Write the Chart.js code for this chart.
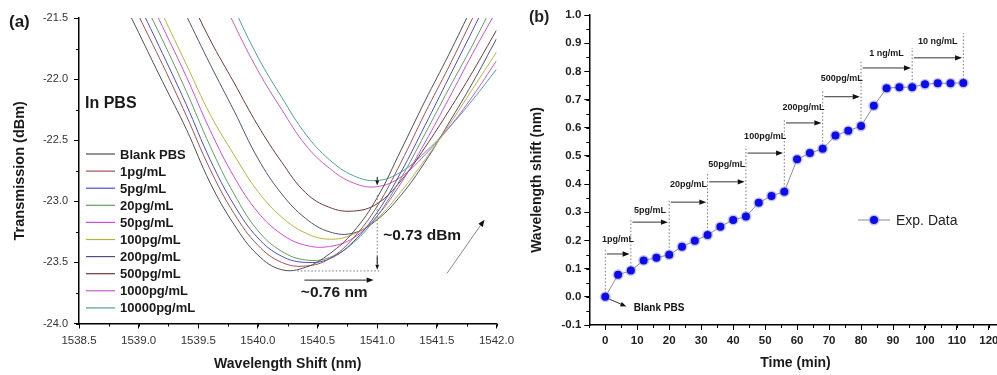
<!DOCTYPE html>
<html>
<head>
<meta charset="utf-8">
<script src="https://cdn.jsdelivr.net/npm/chart.js@4.4.0/dist/chart.umd.min.js"></script>
<style>
  body { margin: 0; background: #fff; width: 997px; height: 375px; overflow: hidden; position: relative; }
  #boxA { position: absolute; left: 0; top: 0; }
  #boxB { position: absolute; left: 500px; top: 0; }
</style>
</head>
<body>
<div id="boxA"><canvas id="chartA" width="530" height="375"></canvas></div>
<div id="boxB"><canvas id="chartB" width="540" height="375"></canvas></div>
<script>
const FONT = 'Arial, "Liberation Sans", Helvetica, sans-serif';

// ---- panel (a): transmission spectra ----
const wavelength = [1538.8, 1539.0, 1539.2, 1539.4, 1539.6, 1539.8, 1540.0, 1540.2, 1540.4, 1540.6, 1540.8, 1541.0, 1541.2, 1541.4, 1541.6, 1541.8, 1542.0];
const blankPBS = [-21.22, -21.62, -22.02, -22.41, -22.85, -23.19, -23.44, -23.56, -23.54, -23.43, -23.25, -22.97, -22.58, -22.18, -21.80, -21.40, -21.00];
const pg1 = [-21.05, -21.48, -21.88, -22.30, -22.74, -23.10, -23.36, -23.50, -23.53, -23.47, -23.30, -23.04, -22.68, -22.28, -21.90, -21.50, -21.10];
const pg5 = [-20.95, -21.38, -21.79, -22.21, -22.66, -23.03, -23.30, -23.45, -23.50, -23.47, -23.33, -23.09, -22.76, -22.38, -21.99, -21.60, -21.20];
const pg20 = [-20.85, -21.28, -21.68, -22.10, -22.55, -22.94, -23.24, -23.41, -23.48, -23.46, -23.34, -23.12, -22.81, -22.45, -22.08, -21.72, -21.33];
const pg50 = [-20.75, -21.16, -21.57, -21.98, -22.42, -22.80, -23.09, -23.27, -23.36, -23.37, -23.30, -23.12, -22.85, -22.52, -22.16, -21.79, -21.44];
const pg100 = [-20.62, -21.05, -21.47, -21.88, -22.29, -22.62, -22.92, -23.13, -23.26, -23.31, -23.27, -23.14, -22.92, -22.66, -22.38, -22.08, -21.78];
const pg200 = [null, -20.65, -21.07, -21.48, -21.88, -22.26, -22.65, -22.94, -23.14, -23.25, -23.26, -23.15, -22.95, -22.68, -22.36, -22.03, -21.67];
const pg500 = [null, -20.48, -20.88, -21.28, -21.68, -22.03, -22.38, -22.68, -22.93, -23.05, -23.08, -23.02, -22.83, -22.56, -22.26, -21.94, -21.60];
const pg1000 = [null, null, null, -20.72, -21.13, -21.55, -21.93, -22.25, -22.54, -22.73, -22.85, -22.88, -22.80, -22.62, -22.40, -22.14, -21.85];
const pg10000 = [null, null, null, -20.55, -20.98, -21.42, -21.82, -22.15, -22.45, -22.66, -22.79, -22.83, -22.76, -22.60, -22.40, -22.17, -21.92];

const seriesNames = ['Blank PBS', '1pg/mL', '5pg/mL', '20pg/mL', '50pg/mL', '100pg/mL', '200pg/mL', '500pg/mL', '1000pg/mL', '10000pg/mL'];
const seriesValues = [blankPBS, pg1, pg5, pg20, pg50, pg100, pg200, pg500, pg1000, pg10000];
const seriesColors = ['#505050', '#a5504e', '#4c4cd0', '#5fa05f', '#d24ce0', '#b5b53c', '#50507c', '#703838', '#c55cca', '#4fa09b'];

// ---- panel (b): wavelength shift vs time ----
const timeMin = [0, 4, 8, 12, 16, 20, 24, 28, 32, 36, 40, 44, 48, 52, 56, 60, 64, 68, 72, 76, 80, 84, 88, 92, 96, 100, 104, 108, 112];
const shiftNm = [0.000, 0.078, 0.093, 0.129, 0.139, 0.149, 0.178, 0.199, 0.219, 0.249, 0.273, 0.285, 0.334, 0.358, 0.373, 0.488, 0.510, 0.525, 0.572, 0.589, 0.606, 0.678, 0.740, 0.744, 0.744, 0.754, 0.758, 0.758, 0.759];

const doseLabels = ['1pg/mL', '5pg/mL', '20pg/mL', '50pg/mL', '100pg/mL', '200pg/mL', '500pg/mL', '1 ng/mL', '10 ng/mL'];
const doseStart = [0, 8, 20, 32, 44, 56, 68, 80, 96];
const doseEnd = [8, 20, 32, 44, 56, 68, 80, 96, 112];
const doseArrowLevel = [0.152, 0.265, 0.336, 0.408, 0.510, 0.617, 0.710, 0.812, 0.848];
const doseLabelLevel = [0.205, 0.305, 0.400, 0.470, 0.570, 0.670, 0.773, 0.865, 0.905];
const markTimes = [0, 8, 20, 32, 44, 56, 68, 80, 96, 112];
const markTops = [0.175, 0.280, 0.345, 0.440, 0.535, 0.628, 0.734, 0.834, 0.883, 0.936];

function arrow(ctx, x1, y1, x2, y2, color, head) {
  const a = Math.atan2(y2 - y1, x2 - x1);
  const bx = x2 - head * Math.cos(a), by = y2 - head * Math.sin(a);
  ctx.setLineDash([]);
  ctx.strokeStyle = color;
  ctx.lineWidth = 1;
  ctx.beginPath(); ctx.moveTo(x1, y1); ctx.lineTo(bx, by); ctx.stroke();
  ctx.fillStyle = '#111';
  ctx.beginPath();
  ctx.moveTo(x2, y2);
  ctx.lineTo(bx + head * 0.38 * Math.sin(a), by - head * 0.38 * Math.cos(a));
  ctx.lineTo(bx - head * 0.38 * Math.sin(a), by + head * 0.38 * Math.cos(a));
  ctx.closePath(); ctx.fill();
}

function dotted(ctx, x1, y1, x2, y2) {
  ctx.strokeStyle = '#777';
  ctx.lineWidth = 1;
  ctx.setLineDash([1.5, 2]);
  ctx.beginPath(); ctx.moveTo(x1, y1); ctx.lineTo(x2, y2); ctx.stroke();
  ctx.setLineDash([]);
}

function minorTicks(chart, xStep, yStep) {
  const { ctx, chartArea, scales: { x, y } } = chart;
  ctx.strokeStyle = '#000';
  ctx.lineWidth = 1;
  ctx.beginPath();
  for (let v = x.min; v <= x.max + 1e-9; v += xStep) {
    const px = Math.round(x.getPixelForValue(v)) + 0.5;
    ctx.moveTo(px, chartArea.bottom); ctx.lineTo(px, chartArea.bottom + 3);
  }
  for (let v = y.min; v <= y.max + 1e-9; v += yStep) {
    const py = Math.round(y.getPixelForValue(v)) + 0.5;
    ctx.moveTo(chartArea.left, py); ctx.lineTo(chartArea.left - 3, py);
  }
  ctx.stroke();
}

const panelA = {
  id: 'panelA',
  afterDraw(chart) {
    const { ctx, scales: { x, y } } = chart;
    ctx.save();
    minorTicks(chart, 0.25, 0.25);

    // legend
    ctx.font = 'bold 13px ' + FONT;
    ctx.textBaseline = 'middle';
    ctx.textAlign = 'left';
    seriesNames.forEach((name, i) => {
      const yy = 154 + i * 17.1;
      ctx.strokeStyle = seriesColors[i];
      ctx.lineWidth = 1.2;
      ctx.beginPath(); ctx.moveTo(86, yy); ctx.lineTo(115, yy); ctx.stroke();
      ctx.fillStyle = '#1a1a1a';
      ctx.fillText(name, 120, yy + 1);
    });
    ctx.font = 'bold 16px ' + FONT;
    ctx.fillText('In PBS', 85, 104);
    ctx.font = 'bold 17px ' + FONT;
    ctx.fillText('(a)', 9, 22);

    // shift annotations
    const xv = x.getPixelForValue(1541.0);
    dotted(ctx, xv, y.getPixelForValue(-22.95), xv, y.getPixelForValue(-23.5));
    arrow(ctx, xv, y.getPixelForValue(-22.80), xv, y.getPixelForValue(-22.87), '#111', 5);
    arrow(ctx, xv, y.getPixelForValue(-23.45), xv, y.getPixelForValue(-23.56), '#111', 5);
    dotted(ctx, x.getPixelForValue(1540.33), y.getPixelForValue(-23.57), x.getPixelForValue(1541.03), y.getPixelForValue(-23.57));
    arrow(ctx, x.getPixelForValue(1540.39), y.getPixelForValue(-23.645), x.getPixelForValue(1540.97), y.getPixelForValue(-23.645), '#222', 7);
    arrow(ctx, x.getPixelForValue(1541.585), y.getPixelForValue(-23.59), x.getPixelForValue(1541.9), y.getPixelForValue(-23.15), '#888', 7);

    ctx.fillStyle = '#1a1a1a';
    ctx.font = 'bold 15.5px ' + FONT;
    ctx.fillText('~0.73 dBm', x.getPixelForValue(1541.05), y.getPixelForValue(-23.28));
    ctx.fillText('~0.76 nm', x.getPixelForValue(1540.36), y.getPixelForValue(-23.745));
    ctx.restore();
  }
};

const panelB = {
  id: 'panelB',
  beforeDatasetsDraw(chart) {
    const { ctx, scales: { x, y } } = chart;
    ctx.save();
    markTimes.forEach((t, i) => {
      const px = x.getPixelForValue(t);
      const base = shiftNm[timeMin.indexOf(t)];
      dotted(ctx, px, y.getPixelForValue(base), px, y.getPixelForValue(markTops[i]));
    });
    ctx.font = 'bold 9px ' + FONT;
    ctx.textAlign = 'center';
    ctx.textBaseline = 'middle';
    doseLabels.forEach((lab, i) => {
      const ay = y.getPixelForValue(doseArrowLevel[i]);
      arrow(ctx, x.getPixelForValue(doseStart[i] + 0.5), ay, x.getPixelForValue(doseEnd[i] - 0.4), ay, '#333', 7);
      ctx.fillStyle = '#1a1a1a';
      ctx.fillText(lab, x.getPixelForValue((doseStart[i] + doseEnd[i]) / 2), y.getPixelForValue(doseLabelLevel[i]));
    });
    arrow(ctx, x.getPixelForValue(1.2), y.getPixelForValue(-0.008), x.getPixelForValue(6.6), y.getPixelForValue(-0.034), '#333', 6);
    ctx.textAlign = 'left';
    ctx.font = 'bold 10px ' + FONT;
    ctx.fillText('Blank PBS', x.getPixelForValue(8.9), y.getPixelForValue(-0.039));
    ctx.restore();
  },
  afterDraw(chart) {
    const { ctx } = chart;
    ctx.save();
    minorTicks(chart, 5, 0.05);
    // y title, placed a little lower than the scale centre as in the original
    ctx.translate(37, 180);
    ctx.rotate(-Math.PI / 2);
    ctx.font = 'bold 14px ' + FONT;
    ctx.fillStyle = '#1a1a1a';
    ctx.textAlign = 'center';
    ctx.textBaseline = 'middle';
    ctx.fillText('Wavelength shift (nm)', 0, 0);
    ctx.setTransform(1, 0, 0, 1, 0, 0);
    ctx.textAlign = 'left';
    // legend
    ctx.strokeStyle = '#8c8c8c';
    ctx.lineWidth = 1;
    ctx.beginPath(); ctx.moveTo(358, 220); ctx.lineTo(390, 220); ctx.stroke();
    ctx.fillStyle = 'rgba(140,140,215,0.5)';
    ctx.beginPath(); ctx.arc(374, 220, 5.5, 0, Math.PI * 2); ctx.fill();
    ctx.fillStyle = '#0b0bec';
    ctx.beginPath(); ctx.arc(374, 220, 4, 0, Math.PI * 2); ctx.fill();
    ctx.fillStyle = '#222';
    ctx.font = '14px ' + FONT;
    ctx.fillText('Exp. Data', 396, 221);
    ctx.font = 'bold 16px ' + FONT;
    ctx.fillText('(b)', 29, 18);
    ctx.restore();
  }
};

function axisCommon(extra) {
  return Object.assign({
    type: 'linear',
    grid: { display: true, drawOnChartArea: false, drawTicks: true, tickLength: 5, tickColor: '#000', lineWidth: 1 },
    border: { display: true, color: '#000', width: 1.5 }
  }, extra);
}

new Chart(document.getElementById('chartA'), {
  type: 'line',
  data: {
    datasets: seriesValues.map((vals, i) => ({
      label: seriesNames[i],
      data: wavelength.map((w, k) => ({ x: w, y: vals[k] })),
      borderColor: seriesColors[i],
      borderWidth: 1,
      pointRadius: 0,
      tension: 0.4,
      fill: false
    }))
  },
  options: {
    responsive: false,
    animation: false,
    layout: { padding: { left: 0, top: 18, right: 33.5, bottom: 0 } },
    plugins: { legend: { display: false }, tooltip: { enabled: false } },
    scales: {
      x: axisCommon({
        min: 1538.5, max: 1542.0,
        ticks: { stepSize: 0.5, autoSkip: false, maxRotation: 0, padding: 5, color: '#333',
                 font: { family: FONT, size: 11.5 }, callback: v => v.toFixed(1) },
        title: { display: true, text: 'Wavelength Shift (nm)', color: '#1a1a1a',
                 font: { family: FONT, size: 14, weight: 'bold' }, padding: { top: 0, bottom: 2.6 } },
        afterFit: s => { s.height = 51.5; }
      }),
      y: axisCommon({
        min: -24, max: -21.5,
        ticks: { stepSize: 0.5, padding: 6, color: '#333',
                 font: { family: FONT, size: 11 }, callback: v => v.toFixed(1) },
        title: { display: true, text: 'Transmission (dBm)', color: '#1a1a1a',
                 font: { family: FONT, size: 14.5, weight: 'bold' }, padding: { top: 11.3, bottom: 0 } },
        afterFit: s => { s.width = 79; }
      })
    }
  },
  plugins: [panelA]
});

new Chart(document.getElementById('chartB'), {
  type: 'line',
  data: {
    datasets: [
      {
        label: 'Exp. Data',
        data: timeMin.map((t, k) => ({ x: t, y: shiftNm[k] })),
        borderColor: '#8c8c8c',
        borderWidth: 1,
        pointRadius: 4,
        pointBackgroundColor: '#0b0bec',
        pointBorderWidth: 0,
        tension: 0
      },
      {
        label: 'halo',
        data: timeMin.map((t, k) => ({ x: t, y: shiftNm[k] })),
        showLine: false,
        pointRadius: 5.5,
        pointBackgroundColor: 'rgba(140,140,215,0.5)',
        pointBorderWidth: 0
      }
    ]
  },
  options: {
    responsive: false,
    animation: false,
    layout: { padding: { left: 0, top: 15, right: 38.3, bottom: 0 } },
    plugins: { legend: { display: false }, tooltip: { enabled: false } },
    scales: {
      x: axisCommon({
        min: -5, max: 124,
        ticks: { stepSize: 10, includeBounds: false, autoSkip: false, maxRotation: 0, padding: 4, color: '#222',
                 font: { family: FONT, size: 11.5, weight: 'bold' } },
        title: { display: true, text: 'Time (min)', color: '#1a1a1a',
                 font: { family: FONT, size: 14, weight: 'bold' }, padding: { top: 0, bottom: 3.6 } },
        afterFit: s => { s.height = 50; }
      }),
      y: axisCommon({
        min: -0.1, max: 1.0,
        ticks: { stepSize: 0.1, padding: 3, color: '#222',
                 font: { family: FONT, size: 11.5, weight: 'bold' }, callback: v => v.toFixed(1) },
        afterFit: s => { s.width = 89.3; }
      })
    }
  },
  plugins: [panelB]
});
</script>
</body>
</html>
